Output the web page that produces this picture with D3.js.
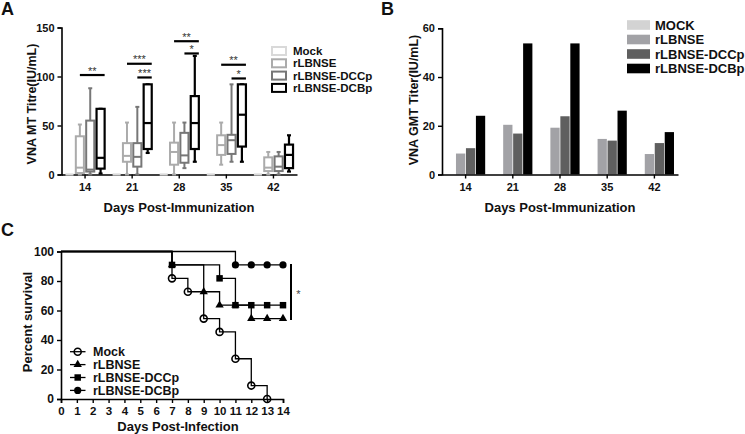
<!DOCTYPE html>
<html><head><meta charset="utf-8">
<script src="https://cdn.jsdelivr.net/npm/d3@7/dist/d3.min.js"></script>
<style>
body{margin:0;background:#fff}
svg text{font-family:"Liberation Sans",Arial,sans-serif}
</style>
</head><body>
<svg id="fig" width="745" height="434"></svg>
<script>
// ---------------- DATA ----------------
const groups = ["Mock", "rLBNSE", "rLBNSE-DCCp", "rLBNSE-DCBp"];
const legendB = ["MOCK", "rLBNSE", "rLBNSE-DCCp", "rLBNSE-DCBp"];
const daysImm = [14, 21, 28, 35, 42];

// Panel A box stats per day: [min, q1, median, q3, max]
const boxMock   = [[0,0,0,0,0],[0,0,0,0,0],[0,0,0,0,0],[0,0,0,0,0],[0,0,0,0,0]];
const boxRLBNSE = [[0,1.5,7,39,51],[0,13,19,32,53],[0,10,23,32.5,53],[10,20,30,40,53],[0,3.5,7,17.5,23]];
const boxDCCp   = [[0,3,5,55,88],[0,8,18,32,69],[6.5,12,19.5,42.5,53],[13,21,35,40.5,92],[0,3.5,8,18.5,23]];
const boxDCBp   = [[1,6,17,67,67],[22,26,52.5,92,92],[13,26,52.5,80,121],[13,28.5,61,92,92],[3,6.5,20,30.5,40]];

// significance brackets (panel A)
const sigDay   = [14, 21, 21, 28, 28, 35, 35];
const sigFrom  = ["rLBNSE","rLBNSE","rLBNSE-DCCp","rLBNSE","rLBNSE-DCCp","rLBNSE","rLBNSE-DCCp"];
const sigTo    = ["rLBNSE-DCBp","rLBNSE-DCBp","rLBNSE-DCBp","rLBNSE-DCBp","rLBNSE-DCBp","rLBNSE-DCBp","rLBNSE-DCBp"];
const sigLevel = [101.5, 113, 99, 136, 123.5, 112, 98];
const sigText  = ["**", "***", "***", "**", "*", "**", "*"];

const yTicksA = [0, 50, 100, 150];

// Panel B GMT titers
const gmtMock   = [0, 0, 0, 0, 0];
const gmtRLBNSE = [8.6, 20.4, 19.2, 14.6, 8.4];
const gmtDCCp   = [10.8, 16.8, 23.9, 13.9, 12.9];
const gmtDCBp   = [24.1, 53.8, 53.8, 26.2, 17.4];
const yTicksB = [0, 20, 40, 60];

// Panel C survival (Kaplan-Meier steps)
const survMockDays   = [0, 7, 8, 9, 10, 11, 12, 13];
const survMockPct    = [100, 81.8, 72.7, 54.5, 45.5, 27.3, 9.1, 0];
const survRLBNSEDays = [0, 7, 9, 10, 11, 12, 13, 14];
const survRLBNSEPct  = [100, 90.9, 72.7, 63.6, 63.6, 54.5, 54.5, 54.5];
const survDCCpDays   = [0, 7, 10, 11, 12, 13, 14];
const survDCCpPct    = [100, 90.9, 81.8, 63.6, 63.6, 63.6, 63.6];
const survDCBpDays   = [0, 11, 12, 13, 14];
const survDCBpPct    = [100, 90.9, 90.9, 90.9, 90.9];
const xTicksC = d3.range(0, 15);
const yTicksC = [0, 20, 40, 60, 80, 100];

// ---------------- DRAW ----------------
const svg = d3.select("#fig");
const FB = "bold";

function styleAxis(g, fs) {
  g.select(".domain").attr("stroke", "#000").attr("stroke-width", 1.6);
  g.selectAll(".tick line").attr("stroke", "#000").attr("stroke-width", 1.4);
  g.selectAll(".tick text").attr("fill", "#111").attr("font-weight", FB).attr("font-size", fs)
    .attr("font-family", '"Liberation Sans", Arial, sans-serif');
}

function panelLabel(t, x, y) {
  svg.append("text").attr("x", x).attr("y", y).attr("font-size", 18).attr("font-weight", FB).attr("fill", "#111").text(t);
}

// ===== Panel A =====
panelLabel("A", 1, 15);
const boxColors = { "Mock": "#d9d9d9", "rLBNSE": "#ababab", "rLBNSE-DCCp": "#777777", "rLBNSE-DCBp": "#000000" };
const boxData = { "Mock": boxMock, "rLBNSE": boxRLBNSE, "rLBNSE-DCCp": boxDCCp, "rLBNSE-DCBp": boxDCBp };

const xA = d3.scaleBand().domain(daysImm).range([61.5, 297]).paddingInner(0.12).paddingOuter(0.06);
const subA = d3.scaleBand().domain(groups).range([0, xA.bandwidth()]).paddingInner(0.22).paddingOuter(0.11);
const yA = d3.scaleLinear().domain([0, 150]).range([174.5, 27.5]);

const gAy = svg.append("g").attr("transform", "translate(61.5,0)")
  .call(d3.axisLeft(yA).tickValues(yTicksA).tickSize(4).tickPadding(3));
styleAxis(gAy, 11);
const gAx = svg.append("g").attr("transform", "translate(0,174.5)")
  .call(d3.axisBottom(xA).tickSize(4).tickPadding(5).tickSizeOuter(0));
styleAxis(gAx, 11);

svg.append("text").attr("transform", "translate(36,104) rotate(-90)").attr("text-anchor", "middle")
  .attr("font-size", 12.5).attr("font-weight", FB).attr("fill", "#111").text("VNA MT Titre(IU/mL)");
svg.append("text").attr("x", 179).attr("y", 212).attr("text-anchor", "middle")
  .attr("font-size", 13).attr("font-weight", FB).attr("fill", "#111").text("Days Post-Immunization");

const bw = subA.bandwidth();
groups.forEach(gname => {
  const col = boxColors[gname];
  const sw = gname === "rLBNSE-DCBp" ? 2.2 : 2;
  const gg = svg.append("g");
  daysImm.forEach((d, i) => {
    const s = boxData[gname][i];
    const x0 = xA(d) + subA(gname);
    const cx = x0 + bw / 2;
    if (s[4] === 0) {
      gg.append("line").attr("x1", x0).attr("x2", x0 + bw).attr("y1", yA(0)).attr("y2", yA(0))
        .attr("stroke", col).attr("stroke-width", 2.2);
      return;
    }
    // whiskers
    gg.append("line").attr("x1", cx).attr("x2", cx).attr("y1", yA(s[0])).attr("y2", yA(s[1]))
      .attr("stroke", col).attr("stroke-width", sw);
    gg.append("line").attr("x1", cx).attr("x2", cx).attr("y1", yA(s[3])).attr("y2", yA(s[4]))
      .attr("stroke", col).attr("stroke-width", sw);
    [s[0], s[4]].forEach(v => {
      gg.append("line").attr("x1", cx - 2).attr("x2", cx + 2).attr("y1", yA(v)).attr("y2", yA(v))
        .attr("stroke", col).attr("stroke-width", sw);
    });
    // box
    gg.append("rect").attr("x", x0).attr("width", bw).attr("y", yA(s[3])).attr("height", yA(s[1]) - yA(s[3]))
      .attr("fill", "#fff").attr("stroke", col).attr("stroke-width", sw);
    gg.append("line").attr("x1", x0).attr("x2", x0 + bw).attr("y1", yA(s[2])).attr("y2", yA(s[2]))
      .attr("stroke", col).attr("stroke-width", sw);
  });
});

// significance bars
sigDay.forEach((d, i) => {
  const xs = xA(d) + subA(sigFrom[i]) + bw / 2;
  const xe = xA(d) + subA(sigTo[i]) + bw;
  const y = yA(sigLevel[i]);
  svg.append("line").attr("x1", xs).attr("x2", xe).attr("y1", y).attr("y2", y)
    .attr("stroke", "#000").attr("stroke-width", 2.2);
  svg.append("text").attr("x", (xs + xe) / 2).attr("y", y - 0.5).attr("text-anchor", "middle")
    .attr("font-size", 11).attr("fill", "#333").text(sigText[i]);
});

// legend A
groups.forEach((gname, i) => {
  const y = 51 + i * 12.3;
  svg.append("rect").attr("x", 272).attr("y", y - 4).attr("width", 14).attr("height", 8)
    .attr("fill", "#fff").attr("stroke", boxColors[gname]).attr("stroke-width", 2);
  svg.append("text").attr("x", 293).attr("y", y + 4).attr("font-size", 11.5).attr("font-weight", FB)
    .attr("fill", "#111").text(gname);
});

// ===== Panel B =====
panelLabel("B", 381, 15);
const barColors = ["#d3d3d3", "#a2a2a6", "#5f5f5f", "#000000"];
const gmtSeries = [gmtMock, gmtRLBNSE, gmtDCCp, gmtDCBp];
const xB = d3.scaleBand().domain(daysImm).range([442, 678]).paddingInner(0.17).paddingOuter(0.085);
const subB = d3.scaleBand().domain(d3.range(4)).range([0, xB.bandwidth()]).paddingInner(0.07);
const yB = d3.scaleLinear().domain([0, 60]).range([174.5, 28.3]);

gmtSeries.forEach((ser, si) => {
  svg.append("g").selectAll("rect").data(ser).join("rect")
    .attr("x", (v, i) => xB(daysImm[i]) + subB(si))
    .attr("width", subB.bandwidth())
    .attr("y", v => yB(v))
    .attr("height", v => yB(0) - yB(v))
    .attr("fill", barColors[si]);
});
const gBy = svg.append("g").attr("transform", "translate(442,0)")
  .call(d3.axisLeft(yB).tickValues(yTicksB).tickSize(4).tickPadding(3));
styleAxis(gBy, 11);
const gBx = svg.append("g").attr("transform", "translate(0,174.5)")
  .call(d3.axisBottom(xB).tickSize(4).tickPadding(5).tickSizeOuter(0));
styleAxis(gBx, 11);
svg.append("text").attr("transform", "translate(417.5,100) rotate(-90)").attr("text-anchor", "middle")
  .attr("font-size", 12.5).attr("font-weight", FB).attr("fill", "#111").text("VNA GMT Titer(IU/mL)");
svg.append("text").attr("x", 560).attr("y", 212).attr("text-anchor", "middle")
  .attr("font-size", 13).attr("font-weight", FB).attr("fill", "#111").text("Days Post-Immunization");
legendB.forEach((name, i) => {
  const y = 25 + i * 14.5;
  svg.append("rect").attr("x", 627).attr("y", y - 4.8).attr("width", 23).attr("height", 9.6).attr("fill", barColors[i]);
  svg.append("text").attr("x", 655).attr("y", y + 4.7).attr("font-size", 13).attr("font-weight", FB)
    .attr("fill", "#111").text(name);
});

// ===== Panel C =====
panelLabel("C", 1, 236);
const xC = d3.scaleLinear().domain([0, 14]).range([61, 283]);
const yC = d3.scaleLinear().domain([0, 100]).range([399, 251.5]);
const gCy = svg.append("g").attr("transform", "translate(61,0)")
  .call(d3.axisLeft(yC).tickValues(yTicksC).tickSize(4).tickPadding(3));
styleAxis(gCy, 12);
const gCx = svg.append("g").attr("transform", "translate(0,399)")
  .call(d3.axisBottom(xC).tickValues(xTicksC).tickSize(4).tickPadding(4).tickFormat(d3.format("d")));
styleAxis(gCx, 11.5);
svg.append("text").attr("transform", "translate(31.5,322) rotate(-90)").attr("text-anchor", "middle")
  .attr("font-size", 13).attr("font-weight", FB).attr("fill", "#111").text("Percent survival");
svg.append("text").attr("x", 178).attr("y", 431).attr("text-anchor", "middle")
  .attr("font-size", 13).attr("font-weight", FB).attr("fill", "#111").text("Days Post-Infection");

const survSeries = [
  { name: "Mock", days: survMockDays, pct: survMockPct, sym: "openCircle" },
  { name: "rLBNSE", days: survRLBNSEDays, pct: survRLBNSEPct, sym: "triangle" },
  { name: "rLBNSE-DCCp", days: survDCCpDays, pct: survDCCpPct, sym: "square" },
  { name: "rLBNSE-DCBp", days: survDCBpDays, pct: survDCBpPct, sym: "circle" }
];
function drawSym(g, sym, x, y) {
  if (sym === "openCircle") {
    g.append("circle").attr("cx", x).attr("cy", y).attr("r", 3.5).attr("fill", "none").attr("stroke", "#000").attr("stroke-width", 1.6);
  } else if (sym === "circle") {
    g.append("circle").attr("cx", x).attr("cy", y).attr("r", 3.6).attr("fill", "#000");
  } else if (sym === "square") {
    g.append("path").attr("transform", `translate(${x},${y})`).attr("d", d3.symbol(d3.symbolSquare, 42)()).attr("fill", "#000");
  } else {
    g.append("path").attr("transform", `translate(${x},${y})`).attr("d", d3.symbol(d3.symbolTriangle, 30)()).attr("fill", "#000");
  }
}
const line = d3.line().x(d => xC(d[0])).y(d => yC(d[1])).curve(d3.curveStepAfter);
const drawOrder = [0, 1, 2, 3];
drawOrder.forEach(k => {
  const s = survSeries[k];
  const pts = s.days.map((d, i) => [d, s.pct[i]]);
  svg.append("path").attr("d", line(pts)).attr("fill", "none").attr("stroke", "#000").attr("stroke-width", 1.3);
});
drawOrder.forEach(k => {
  const s = survSeries[k];
  const g = svg.append("g");
  s.days.forEach((d, i) => { if (i > 0) drawSym(g, s.sym, xC(d), yC(s.pct[i])); });
});
// significance bar C
const xSig = xC(14) + 8;
svg.append("line").attr("x1", xSig).attr("x2", xSig)
  .attr("y1", yC(survDCBpPct[survDCBpPct.length - 1]) - 1).attr("y2", yC(survRLBNSEPct[survRLBNSEPct.length - 1]) + 1.5)
  .attr("stroke", "#000").attr("stroke-width", 2);
svg.append("text").attr("x", xSig + 7.5).attr("y", 298).attr("text-anchor", "middle")
  .attr("font-size", 11).attr("fill", "#444").text("*");
// legend C
survSeries.forEach((s, i) => {
  const y = 351.7 + i * 12.9;
  const g = svg.append("g");
  g.append("line").attr("x1", 70).attr("x2", 85.5).attr("y1", y).attr("y2", y).attr("stroke", "#000").attr("stroke-width", 1.3);
  drawSym(g, s.sym, 77.7, y);
  g.append("text").attr("x", 93).attr("y", y + 4.4).attr("font-size", 12.5).attr("font-weight", FB)
    .attr("fill", "#111").text(s.name);
});
</script>
</body></html>
